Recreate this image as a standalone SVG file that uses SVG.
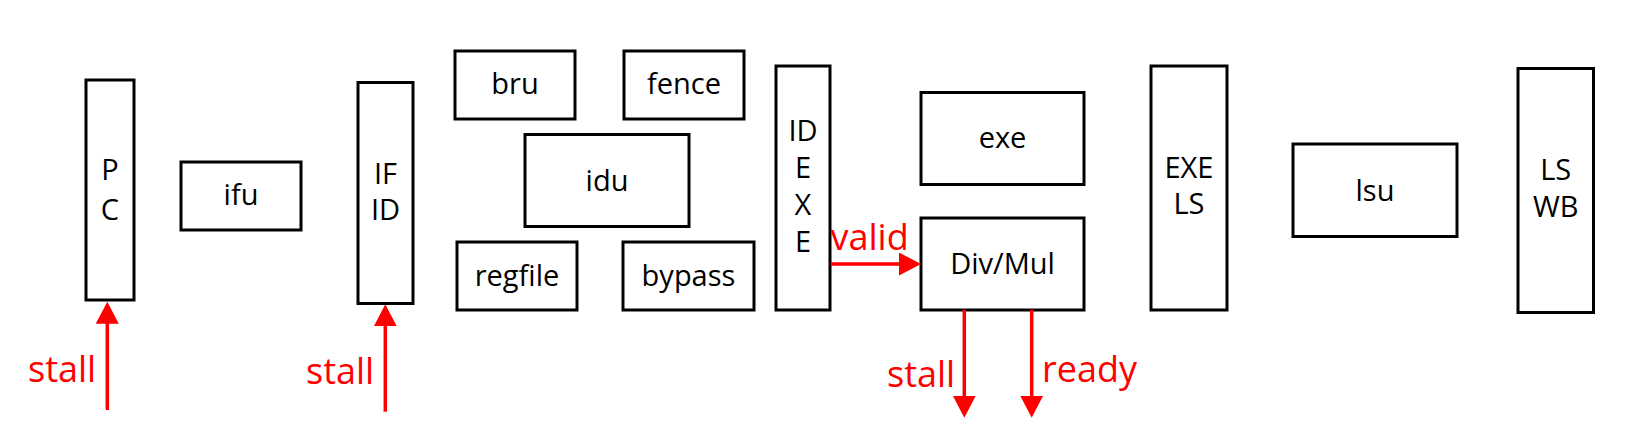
<svg xmlns="http://www.w3.org/2000/svg" width="1627" height="429" viewBox="0 0 1627 429">
<style>
.box{fill:#fff;stroke:#000;stroke-width:3}
.t{font-family:"Open Sans","Liberation Sans",sans-serif;font-size:29px;fill:#000;text-anchor:middle}
.r{font-family:"Open Sans","Liberation Sans",sans-serif;font-size:36px;fill:#ff0000}
.wire{stroke:#ff0000;stroke-width:3.5;fill:none}
</style>
<defs>
<marker id="ah" viewBox="0 0 22 23" refX="12" refY="11.5" markerWidth="22" markerHeight="23" markerUnits="userSpaceOnUse" orient="auto">
<path d="M0,0 L22,11.5 L0,23 Z" fill="#ff0000"/>
</marker>
</defs>
<g id="PC"><rect class="box" x="86" y="80" width="48" height="220"/><text class="t" x="110" y="180">P</text><text class="t" x="110" y="220">C</text></g>
<g id="ifu"><rect class="box" x="181" y="162" width="120" height="68"/><text class="t" x="241" y="205">ifu</text></g>
<g id="IFID"><rect class="box" x="358" y="82.5" width="55" height="221"/><text class="t" x="385.5" y="184">IF</text><text class="t" x="385.5" y="220">ID</text></g>
<g id="bru"><rect class="box" x="455" y="51" width="120" height="68"/><text class="t" x="515" y="94">bru</text></g>
<g id="fence"><rect class="box" x="624" y="51" width="120" height="68"/><text class="t" x="684" y="94">fence</text></g>
<g id="idu"><rect class="box" x="525" y="134.5" width="164" height="92"/><text class="t" x="607" y="190.5">idu</text></g>
<g id="regfile"><rect class="box" x="457" y="242" width="120" height="68"/><text class="t" x="517" y="285.5">regfile</text></g>
<g id="bypass"><rect class="box" x="623" y="242" width="131" height="68"/><text class="t" x="688.5" y="285.5">bypass</text></g>
<g id="IDEXE"><rect class="box" x="776" y="66" width="54" height="244"/><text class="t" x="803" y="141">ID</text><text class="t" x="803" y="178">E</text><text class="t" x="803" y="215">X</text><text class="t" x="803" y="251.5">E</text></g>
<g id="exe"><rect class="box" x="921" y="92.5" width="163" height="92"/><text class="t" x="1002.5" y="148">exe</text></g>
<g id="DivMul"><rect class="box" x="921" y="218" width="163" height="92"/><text class="t" x="1002.5" y="274">Div/Mul</text></g>
<g id="EXELS"><rect class="box" x="1151" y="66" width="76" height="244"/><text class="t" x="1189" y="178">EXE</text><text class="t" x="1189" y="214">LS</text></g>
<g id="lsu"><rect class="box" x="1293" y="144" width="164" height="92.5"/><text class="t" x="1375" y="201">lsu</text></g>
<g id="LSWB"><rect class="box" x="1518" y="68.5" width="75.5" height="244"/><text class="t" x="1555.7" y="180">LS</text><text class="t" x="1555.7" y="217">WB</text></g>
<g id="connectors">
<line class="wire" x1="107.3" y1="410" x2="107.3" y2="311.7" marker-end="url(#ah)"/>
<line class="wire" x1="385.3" y1="411.7" x2="385.3" y2="314.3" marker-end="url(#ah)"/>
<line class="wire" x1="830.7" y1="264" x2="911" y2="264" marker-end="url(#ah)"/>
<line class="wire" x1="964.3" y1="309.7" x2="964.3" y2="407.7" marker-end="url(#ah)"/>
<line class="wire" x1="1031.7" y1="309.7" x2="1031.7" y2="407.7" marker-end="url(#ah)"/>
</g>
<g id="labels">
<text class="r" x="28" y="381.7">stall</text>
<text class="r" x="306" y="384">stall</text>
<text class="r" x="830.5" y="250">valid</text>
<text class="r" x="887" y="386.7">stall</text>
<text class="r" x="1042" y="381.7">ready</text>
</g>
</svg>
